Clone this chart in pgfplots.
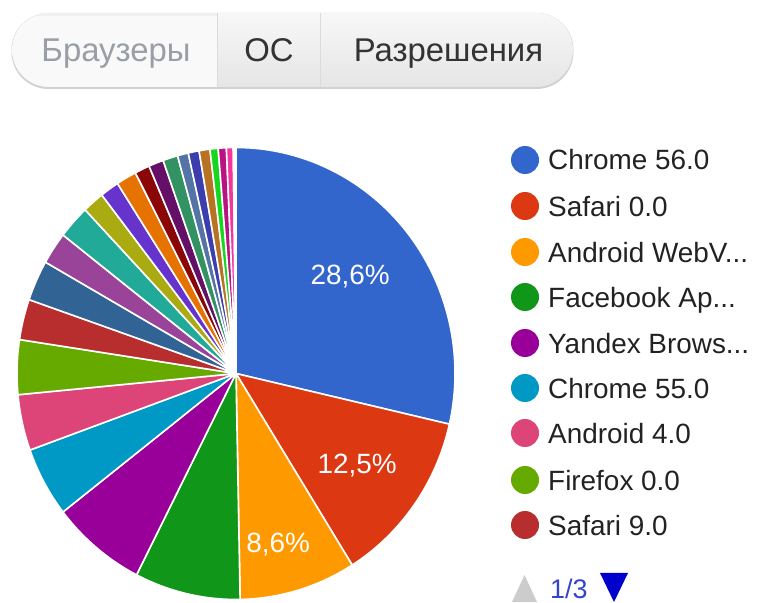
\documentclass[border=0pt]{standalone}
\usepackage{pgfplots}
\pgfplotsset{compat=1.18}
\usepackage{pgfplotstable}
\usepackage{fontspec}
\setmainfont{Liberation Sans}

\definecolor{c1}{HTML}{3366CC}
\definecolor{c2}{HTML}{DC3912}
\definecolor{c3}{HTML}{FF9900}
\definecolor{c4}{HTML}{109618}
\definecolor{c5}{HTML}{990099}
\definecolor{c6}{HTML}{0099C6}
\definecolor{c7}{HTML}{DD4477}
\definecolor{c8}{HTML}{66AA00}
\definecolor{c9}{HTML}{B82E2E}
\definecolor{c10}{HTML}{316395}
\definecolor{c11}{HTML}{994499}
\definecolor{c12}{HTML}{22AA99}
\definecolor{c13}{HTML}{AAAA11}
\definecolor{c14}{HTML}{6633CC}
\definecolor{c15}{HTML}{E67300}
\definecolor{c16}{HTML}{8B0707}
\definecolor{c17}{HTML}{651067}
\definecolor{c18}{HTML}{329262}
\definecolor{c19}{HTML}{5574A6}
\definecolor{c20}{HTML}{3B3EAC}
\definecolor{c21}{HTML}{B77322}
\definecolor{c22}{HTML}{16D620}
\definecolor{c23}{HTML}{B91383}
\definecolor{c24}{HTML}{F4359E}
\definecolor{c25}{HTML}{9C5935}
\definecolor{c26}{HTML}{A9C413}
\definecolor{legtext}{HTML}{222222}
\definecolor{tabtext}{HTML}{333333}
\definecolor{tabsel}{HTML}{9A9EA6}
\definecolor{pagertext}{HTML}{3344CC}
\definecolor{pagerblue}{HTML}{0000CC}

\pgfplotstableread{
pct  col
28.6 c1
12.5 c2
8.6  c3
7.8  c4
7.0  c5
5.0  c6
4.0  c7
3.9  c8
2.9  c9
2.9  c10
2.3  c11
2.4  c12
1.6  c13
1.4  c14
1.5  c15
1.1  c16
1.1  c17
1.1  c18
0.8  c19
0.8  c20
0.8  c21
0.6  c22
0.6  c23
0.5  c24
0.1  c25
0.1  c26
}\slices

\begin{document}
\begin{tikzpicture}
\useasboundingbox (0,0) rectangle (758bp,603bp);

% ---- build slice commands from the table
\gdef\pieslices{}
\gdef\cum{0}
\pgfplotsforeachungrouped \i in {0,...,25}{%
  \pgfplotstablegetelem{\i}{pct}\of\slices \let\slpct\pgfplotsretval
  \pgfplotstablegetelem{\i}{col}\of\slices \let\slcol\pgfplotsretval
  \pgfmathsetmacro\sla{\cum*3.6}%
  \pgfmathsetmacro\cumnew{\cum+\slpct}%
  \pgfmathsetmacro\slb{\cumnew*3.6}%
  \xdef\pieslices{\unexpanded\expandafter{\pieslices}%
    \noexpand\fill[\slcol, draw=white, line width=1.6bp, line join=round]
      (axis cs:0,0) -- (axis cs:{sin(\sla)},{cos(\sla)})
      arc[start angle={90-\sla}, end angle={90-\slb}, x radius=219bp, y radius=226bp] -- cycle;}%
  \global\let\cum\cumnew
}

% ---- tab bar
\fill[black!18, rounded corners=37bp] (11.5bp,514bp) rectangle (573.5bp,590bp);
\begin{scope}
  \clip[rounded corners=37bp] (12bp,516bp) rectangle (573bp,590bp);
  \shade[top color=white!97!black, bottom color=white!90!black] (217bp,516bp) rectangle (573bp,590bp);
  \fill[white!97.5!black] (12bp,516bp) rectangle (217bp,590bp);
  \fill[black!6] (12bp,587bp) rectangle (217bp,590bp);
  \draw[black!14, line width=1bp] (217bp,516bp) -- (217bp,590bp);
  \draw[black!14, line width=1bp] (320bp,516bp) -- (320bp,590bp);
\end{scope}
\node[anchor=base, font=\fontsize{33}{36}\selectfont, text=tabsel] at (116bp,541bp) {Браузеры};
\node[anchor=base, font=\fontsize{33}{36}\selectfont, text=tabtext] at (269bp,541bp) {ОС};
\node[anchor=base, font=\fontsize{33}{36}\selectfont, text=tabtext] at (448.5bp,541bp) {Разрешения};

% ---- pie
\begin{axis}[
  at={(236bp,229.5bp)}, anchor=center,
  scale only axis, width=438bp, height=452bp,
  xmin=-1, xmax=1, ymin=-1, ymax=1,
  hide axis, clip=false,
]
\pieslices
\node[text=white, font=\fontsize{28}{30}\selectfont] at (axis cs:0.521,0.427) {28,6\%};
\node[text=white, font=\fontsize{28}{30}\selectfont] at (axis cs:0.553,-0.409) {12,5\%};
\node[text=white, font=\fontsize{28}{30}\selectfont] at (axis cs:0.192,-0.759) {8,6\%};
\end{axis}

% ---- legend
\foreach \yr/\cc/\txt in {160/c1/{Chrome 56.0}, 206/c2/{Safari 0.0}, 252/c3/{Android WebV...},
  297/c4/{Facebook Ap...}, 343/c5/{Yandex Brows...}, 388/c6/{Chrome 55.0},
  433/c7/{Android 4.0}, 480/c8/{Firefox 0.0}, 525/c9/{Safari 9.0}}{
  \fill[\cc] (525bp,{(603-\yr)*1bp}) circle[radius=14bp];
  \node[anchor=base west, inner sep=0pt, text=legtext, font=\fontsize{28}{30}\selectfont]
    at (548bp,{(603-\yr-10)*1bp}) {\txt};
}

% ---- pager
\fill[black!20] (512bp,1bp) -- (537bp,1bp) -- (524.5bp,28bp) -- cycle;
\node[anchor=base west, inner sep=0pt, text=pagertext, font=\fontsize{27}{29}\selectfont] at (550bp,5bp) {1/3};
\fill[pagerblue] (600bp,30bp) -- (628bp,30bp) -- (614bp,1bp) -- cycle;
\end{tikzpicture}
\end{document}
